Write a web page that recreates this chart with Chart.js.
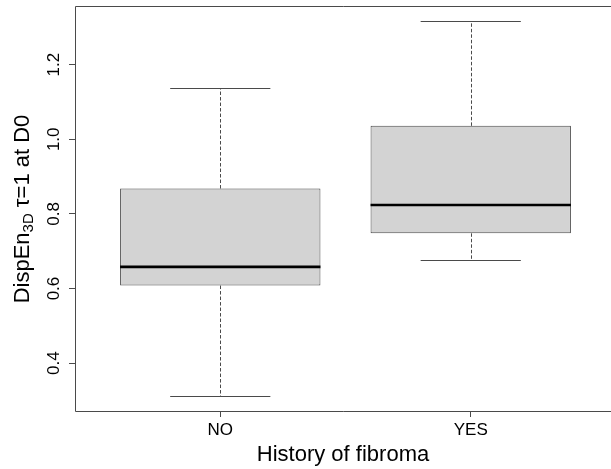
<!DOCTYPE html>
<html><head><meta charset="utf-8">
<script src="https://cdn.jsdelivr.net/npm/chart.js@4.4.1/dist/chart.umd.min.js"></script>
<style>
html,body{margin:0;padding:0;background:#fff;overflow:hidden;width:611px;height:469px}
canvas{display:block}
</style></head>
<body><canvas id="c" width="611" height="469" style="width:611px;height:469px"></canvas>
<script>
const categories = ['NO', 'YES'];
const categoryPositions = [1, 2];
const whiskerLow = [0.312, 0.677];
const q1 = [0.608, 0.748];
const median = [0.658, 0.824];
const q3 = [0.868, 1.036];
const whiskerHigh = [1.138, 1.317];
const yTickValues = [0.4, 0.6, 0.8, 1.0, 1.2];
const yTickLabels = ['0.4', '0.6', '0.8', '1.0', '1.2'];
const xTitle = 'History of fibroma';
const yTitleParts = ['DispEn', '3D', ' \u03c4=1 at D0'];

const FONT = '"Liberation Sans", Arial, sans-serif';
const LINE = '#4a4a4a';
const lo = Math.min(...whiskerLow), hi = Math.max(...whiskerHigh);
const ext = (hi - lo) * 0.04;

function noPad(s) { s.paddingTop = 0; s.paddingBottom = 0; s.paddingLeft = 0; s.paddingRight = 0; }

const boxPlugin = {
  id: 'boxparts',
  afterDatasetsDraw(chart) {
    const ctx = chart.ctx, xs = chart.scales.x, ys = chart.scales.y;
    ctx.save();
    categoryPositions.forEach((p, i) => {
      const cx = Math.round(xs.getPixelForValue(p)) + 0.5;
      const capL = xs.getPixelForValue(p - 0.2), capR = xs.getPixelForValue(p + 0.2);
      const bL = xs.getPixelForValue(p - 0.4), bR = xs.getPixelForValue(p + 0.4);
      const yHi = Math.round(ys.getPixelForValue(whiskerHigh[i])) + 0.5;
      const yLo = Math.round(ys.getPixelForValue(whiskerLow[i])) + 0.5;
      const yQ1 = ys.getPixelForValue(q1[i]);
      const yQ3 = ys.getPixelForValue(q3[i]);
      const yMed = ys.getPixelForValue(median[i]);
      ctx.strokeStyle = LINE;
      ctx.lineWidth = 1;
      ctx.setLineDash([3.5, 2]);
      ctx.beginPath();
      ctx.moveTo(cx, yQ3); ctx.lineTo(cx, yHi);
      ctx.moveTo(cx, yQ1); ctx.lineTo(cx, yLo);
      ctx.stroke();
      ctx.setLineDash([]);
      ctx.beginPath();
      ctx.moveTo(capL, yHi); ctx.lineTo(capR, yHi);
      ctx.moveTo(capL, yLo); ctx.lineTo(capR, yLo);
      ctx.stroke();
      ctx.strokeStyle = '#000';
      ctx.lineWidth = 2.6;
      ctx.beginPath();
      ctx.moveTo(bL, yMed); ctx.lineTo(bR, yMed);
      ctx.stroke();
    });
    // plot frame: top, left and bottom (its right edge lies beyond the picture)
    const fl = Math.round(xs.getPixelForValue(xs.min)) + 0.5;
    const fr = chart.width;
    const ft = Math.round(ys.getPixelForValue(ys.max)) + 0.5;
    const fb = Math.round(ys.getPixelForValue(ys.min)) + 0.5;
    ctx.strokeStyle = LINE;
    ctx.lineWidth = 1;
    ctx.beginPath();
    ctx.moveTo(fl, ft); ctx.lineTo(fr, ft);
    ctx.moveTo(fl, ft); ctx.lineTo(fl, fb);
    ctx.moveTo(fl, fb); ctx.lineTo(fr, fb);
    ctx.stroke();
    // y-axis title with subscript
    ctx.fillStyle = '#000';
    ctx.translate(23, (ft + fb) / 2);
    ctx.rotate(-Math.PI / 2);
    ctx.textBaseline = 'middle';
    ctx.textAlign = 'left';
    const big = '22px ' + FONT, small = '15px ' + FONT;
    ctx.font = big; const w0 = ctx.measureText(yTitleParts[0]).width;
    ctx.font = small; const w1 = ctx.measureText(yTitleParts[1]).width;
    ctx.font = big; const w2 = ctx.measureText(yTitleParts[2]).width;
    const x0 = -(w0 + w1 + w2) / 2;
    ctx.font = big; ctx.fillText(yTitleParts[0], x0, 0);
    ctx.font = small; ctx.fillText(yTitleParts[1], x0 + w0, 6);
    ctx.font = big; ctx.fillText(yTitleParts[2], x0 + w0 + w1, 0);
    ctx.restore();
  }
};

new Chart(document.getElementById('c'), {
  type: 'bar',
  data: {
    datasets: [{
      data: categoryPositions.map((p, i) => ({ x: p, y: [q1[i], q3[i]] })),
      backgroundColor: '#d3d3d3',
      borderColor: LINE,
      borderWidth: 1,
      borderSkipped: false,
      barPercentage: 1,
      categoryPercentage: 0.8
    }]
  },
  options: {
    responsive: false,
    animation: false,
    devicePixelRatio: 1,
    layout: { padding: { top: 6, right: 0, left: 0, bottom: 0 } },
    plugins: { legend: { display: false }, tooltip: { enabled: false } },
    scales: {
      x: {
        type: 'linear',
        offset: false,
        min: 0.42, max: 2.56,
        afterBuildTicks: s => { s.ticks = categoryPositions.map(v => ({ value: v })); },
        afterFit: s => { s.height = 58; noPad(s); },
        border: { display: false },
        grid: { display: true, offset: false, drawOnChartArea: false, drawTicks: true, tickLength: 6, color: LINE, tickColor: LINE },
        ticks: {
          callback: (v, i) => categories[i],
          color: '#000', font: { family: FONT, size: 17 }, padding: 3,
          maxRotation: 0, minRotation: 0, autoSkip: false
        },
        title: { display: true, text: xTitle, color: '#000', font: { family: FONT, size: 22 }, padding: { top: 0, bottom: 1 } }
      },
      y: {
        type: 'linear',
        min: lo - ext, max: hi + ext,
        afterBuildTicks: s => { s.ticks = yTickValues.map(v => ({ value: v })); },
        afterFit: s => { s.width = 75; noPad(s); },
        border: { display: false },
        grid: { display: true, drawOnChartArea: false, drawTicks: true, tickLength: 6, color: LINE, tickColor: LINE },
        ticks: {
          callback: (v, i) => yTickLabels[i],
          color: '#000', font: { family: FONT, size: 17 }, padding: 3,
          minRotation: 90, maxRotation: 90, crossAlign: 'center', autoSkip: false
        }
      }
    }
  },
  plugins: [boxPlugin]
});
</script>
</body></html>
